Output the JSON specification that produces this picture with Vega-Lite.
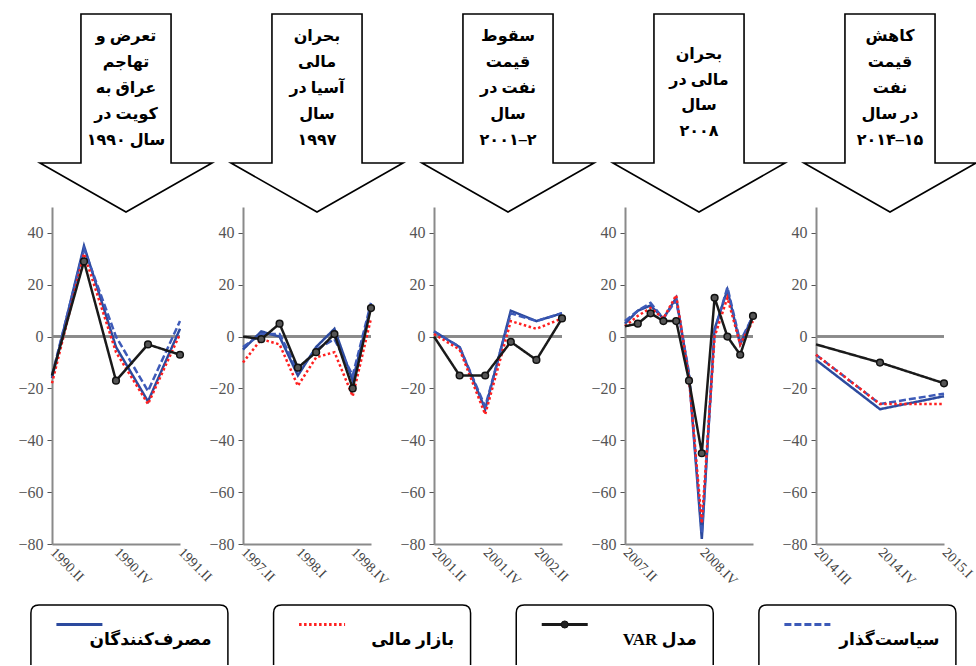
{
  "$schema": "https://vega.github.io/schema/vega-lite/v6.json",
  "background": "white",
  "padding": {"left": 17, "top": 10, "right": 0, "bottom": 0},
  "bounds": "full",
  "spacing": 14,
  "datasets": {
    "events": [
      {"panel": 1, "label": "تعرض و\nتهاجم\nعراق به\nکویت در\n\u202bسال ۱۹۹۰\u202c"},
      {"panel": 2, "label": "بحران\nمالی\nآسیا در\nسال\n۱۹۹۷"},
      {"panel": 3, "label": "سقوط\nقیمت\nنفت در\nسال\n\u202a۲۰۰۱–۲\u202c"},
      {"panel": 4, "label": "بحران\nمالی در\nسال\n۲۰۰۸"},
      {"panel": 5, "label": "کاهش\nقیمت\nنفت\nدر سال\n\u202a۲۰۱۴–۱۵\u202c"}
    ],
    "series": [
      {"panel": 1, "q": "1990.II", "consumers": -16, "market": -18, "var": -15, "policy": -15},
      {"panel": 1, "q": "1990.III", "consumers": 35, "market": 32, "var": 29, "policy": 34},
      {"panel": 1, "q": "1990.IV", "consumers": -4, "market": -6, "var": -17, "policy": 0},
      {"panel": 1, "q": "1991.I", "consumers": -25, "market": -26, "var": -3, "policy": -21},
      {"panel": 1, "q": "1991.II", "consumers": 3, "market": 1, "var": -7, "policy": 6},
      {"panel": 2, "q": "1997.II", "consumers": -5, "market": -10, "var": 0, "policy": -4},
      {"panel": 2, "q": "1997.III", "consumers": 2, "market": -1, "var": -1, "policy": 1},
      {"panel": 2, "q": "1997.IV", "consumers": 0, "market": -3, "var": 5, "policy": 1},
      {"panel": 2, "q": "1998.I", "consumers": -15, "market": -19, "var": -12, "policy": -13},
      {"panel": 2, "q": "1998.II", "consumers": -4, "market": -8, "var": -6, "policy": -5},
      {"panel": 2, "q": "1998.III", "consumers": 3, "market": -6, "var": 1, "policy": -1},
      {"panel": 2, "q": "1998.IV", "consumers": -17, "market": -23, "var": -20, "policy": -15},
      {"panel": 2, "q": "1999.I", "consumers": 12, "market": 7, "var": 11, "policy": 13},
      {"panel": 3, "q": "2001.II", "consumers": 2, "market": 1, "var": 0, "policy": 2},
      {"panel": 3, "q": "2001.III", "consumers": -4, "market": -5, "var": -15, "policy": -4},
      {"panel": 3, "q": "2001.IV", "consumers": -28, "market": -30, "var": -15, "policy": -27},
      {"panel": 3, "q": "2002.I", "consumers": 10, "market": 6, "var": -2, "policy": 9},
      {"panel": 3, "q": "2002.II", "consumers": 6, "market": 3, "var": -9, "policy": 6},
      {"panel": 3, "q": "2002.III", "consumers": 9, "market": 7, "var": 7, "policy": 9},
      {"panel": 4, "q": "2007.II", "consumers": 5, "market": 4, "var": 4, "policy": 6},
      {"panel": 4, "q": "2007.III", "consumers": 10, "market": 8, "var": 5, "policy": 10},
      {"panel": 4, "q": "2007.IV", "consumers": 12, "market": 11, "var": 9, "policy": 13},
      {"panel": 4, "q": "2008.I", "consumers": 7, "market": 7, "var": 6, "policy": 7},
      {"panel": 4, "q": "2008.II", "consumers": 15, "market": 16, "var": 6, "policy": 14},
      {"panel": 4, "q": "2008.III", "consumers": -15, "market": -16, "var": -17, "policy": -14},
      {"panel": 4, "q": "2008.IV", "consumers": -78, "market": -72, "var": -45, "policy": -76},
      {"panel": 4, "q": "2009.I", "consumers": 3, "market": 0, "var": 15, "policy": 2},
      {"panel": 4, "q": "2009.II", "consumers": 18, "market": 15, "var": 0, "policy": 19},
      {"panel": 4, "q": "2009.III", "consumers": -3, "market": -3, "var": -7, "policy": -2},
      {"panel": 4, "q": "2009.IV", "consumers": 8, "market": 6, "var": 8, "policy": 8},
      {"panel": 5, "q": "2014.III", "consumers": -9, "market": -7, "var": -3, "policy": -7},
      {"panel": 5, "q": "2014.IV", "consumers": -28, "market": -26, "var": -10, "policy": -26},
      {"panel": 5, "q": "2015.I", "consumers": -23, "market": -26, "var": -18, "policy": -22}
    ],
    "legend": [
      {"idx": 1, "series": "consumers", "label": "مصرف\u200cکنندگان"},
      {"idx": 2, "series": "market", "label": "بازار مالی"},
      {"idx": 3, "series": "var", "label": "\u202bمدل VAR\u202c"},
      {"idx": 4, "series": "policy", "label": "سیاست\u200cگذار"}
    ]
  },
  "vconcat": [
    {
      "data": {"name": "series"},
      "transform": [
        {"fold": ["consumers", "policy", "market", "var"], "as": ["series", "value"]},
        {"lookup": "panel", "from": {"data": {"name": "events"}, "key": "panel", "fields": ["label"]}}
      ],
      "facet": {"column": {"field": "panel", "type": "ordinal", "header": null}},
      "spacing": 63,
      "bounds": "flush",
      "resolve": {"scale": {"x": "independent"}, "axis": {"x": "independent", "y": "independent"}},
      "spec": {
        "width": 128,
        "height": 337,
        "layer": [
          {
            "transform": [
              {"window": [{"op": "row_number", "as": "k"}], "groupby": ["panel"]},
              {"filter": "datum.k == 1"}
            ],
            "mark": {"type": "point", "shape": "M-0.455,-1.9495L0.455,-1.9495L0.455,-0.4444L0.869,-0.4444L0,0.0505L-0.869,-0.4444L-0.455,-0.4444Z", "size": 39204, "filled": true, "fill": "white", "stroke": "black", "strokeWidth": 1.6, "opacity": 1, "xOffset": 10},
            "encoding": {"y": {"datum": 50, "type": "quantitative"}}
          },
          {
            "transform": [
              {"window": [{"op": "row_number", "as": "k"}], "groupby": ["panel"]},
              {"filter": "datum.k == 1 && datum.panel != 4"}
            ],
            "mark": {"type": "text", "lineBreak": "\n", "font": "Liberation Serif, DejaVu Sans", "fontWeight": "bold", "fontSize": 16, "lineHeight": 26, "baseline": "middle", "align": "center", "dx": 10, "dy": -171, "color": "black"},
            "encoding": {"y": {"datum": 50, "type": "quantitative"}, "text": {"field": "label"}}
          },
          {
            "transform": [
              {"window": [{"op": "row_number", "as": "k"}], "groupby": ["panel"]},
              {"filter": "datum.k == 1 && datum.panel == 4"}
            ],
            "mark": {"type": "text", "lineBreak": "\n", "font": "Liberation Serif, DejaVu Sans", "fontWeight": "bold", "fontSize": 16, "lineHeight": 25.7, "baseline": "middle", "align": "center", "dx": 10, "dy": -153, "color": "black"},
            "encoding": {"y": {"datum": 50, "type": "quantitative"}, "text": {"field": "label"}}
          },
          {
            "mark": {"type": "rule", "color": "#8a8a8a", "strokeWidth": 1.5},
            "encoding": {"y": {"datum": 0, "type": "quantitative"}}
          },
          {
            "mark": {"type": "line", "strokeWidth": 2.5},
            "encoding": {
              "x": {
                "field": "q", "type": "ordinal", "sort": null,
                "scale": {"type": "point", "padding": 0},
                "axis": {
                  "title": null, "ticks": false, "domainColor": "#8a8a8a", "domainWidth": 2,
                  "labelAngle": 45, "labelAlign": "left", "labelBaseline": "middle",
                  "labelFont": "Liberation Serif", "labelFontSize": 14, "labelColor": "#444",
                  "labelPadding": 6, "labelOverlap": false,
                  "labelExpr": "indexof(['1990.II','1990.IV','1991.II','1997.II','1998.I','1998.IV','2001.II','2001.IV','2002.II','2007.II','2008.IV','2014.III','2014.IV','2015.I'], datum.value) >= 0 ? datum.value : ''"
                }
              },
              "y": {
                "field": "value", "type": "quantitative",
                "scale": {"domain": [-80, 50], "nice": false},
                "axis": {
                  "values": [-80, -60, -40, -20, 0, 20, 40], "title": null, "grid": false,
                  "domainColor": "#8a8a8a", "domainWidth": 2, "tickColor": "#555", "tickSize": 5,
                  "labelFont": "Liberation Serif", "labelFontSize": 16, "labelColor": "#555", "labelPadding": 4
                }
              },
              "stroke": {
                "field": "series", "type": "nominal", "legend": null,
                "scale": {"domain": ["consumers", "policy", "market", "var"], "range": ["#2c4a9e", "#3d5ab8", "#ff1f1f", "#1a1a1a"]}
              },
              "strokeDash": {
                "field": "series", "type": "nominal", "legend": null,
                "scale": {"domain": ["consumers", "policy", "market", "var"], "range": [[1, 0], [7, 3], [2.5, 2.5], [1, 0]]}
              }
            }
          },
          {
            "transform": [
              {"filter": "datum.series === 'var'"},
              {"window": [{"op": "row_number", "as": "k"}], "groupby": ["panel"]},
              {"filter": "datum.k > 1"}
            ],
            "mark": {"type": "point", "filled": true, "size": 45, "fill": "#555", "stroke": "#111", "strokeWidth": 1.5, "opacity": 1},
            "encoding": {
              "x": {"field": "q", "type": "ordinal", "sort": null},
              "y": {"field": "value", "type": "quantitative"}
            }
          }
        ]
      }
    },
    {
      "width": 860,
      "height": 61,
      "data": {"name": "legend"},
      "layer": [
        {
          "mark": {"type": "point", "shape": "M-1,0.3L-1,-0.2284Q-1,-0.3096,-0.9188,-0.3096L0.9188,-0.3096Q1,-0.3096,1,-0.2284L1,0.3", "size": 38809, "filled": true, "fill": "white", "stroke": "black", "strokeWidth": 1.5, "opacity": 1},
          "encoding": {
            "x": {"field": "idx", "type": "quantitative", "scale": {"domain": [0.681, 4.225], "nice": false, "zero": false}, "axis": null}
          }
        },
        {
          "mark": {"type": "point", "shape": "M-1,0L1,0", "size": 2116, "filled": false, "strokeWidth": 3, "opacity": 1, "xOffset": -50, "yOffset": -11},
          "encoding": {
            "x": {"field": "idx", "type": "quantitative"},
            "stroke": {
              "field": "series", "type": "nominal", "legend": null,
              "scale": {"domain": ["consumers", "policy", "market", "var"], "range": ["#2c4a9e", "#3d5ab8", "#ff1f1f", "#1a1a1a"]}
            },
            "strokeDash": {
              "field": "series", "type": "nominal", "legend": null,
              "scale": {"domain": ["consumers", "policy", "market", "var"], "range": [[1, 0], [12, 4], [3, 2.5], [1, 0]]}
            }
          }
        },
        {
          "transform": [{"filter": "datum.series === 'var'"}],
          "mark": {"type": "point", "filled": true, "size": 50, "fill": "#222", "stroke": "#111", "strokeWidth": 1, "opacity": 1, "xOffset": -50, "yOffset": -11},
          "encoding": {"x": {"field": "idx", "type": "quantitative"}}
        },
        {
          "mark": {"type": "text", "align": "right", "baseline": "middle", "dx": 82, "dy": 4, "font": "Liberation Serif, DejaVu Sans", "fontWeight": "bold", "fontSize": 17, "color": "black"},
          "encoding": {
            "x": {"field": "idx", "type": "quantitative"},
            "text": {"field": "label"}
          }
        }
      ]
    }
  ],
  "config": {
    "view": {"stroke": null},
    "axis": {"grid": false}
  }
}
